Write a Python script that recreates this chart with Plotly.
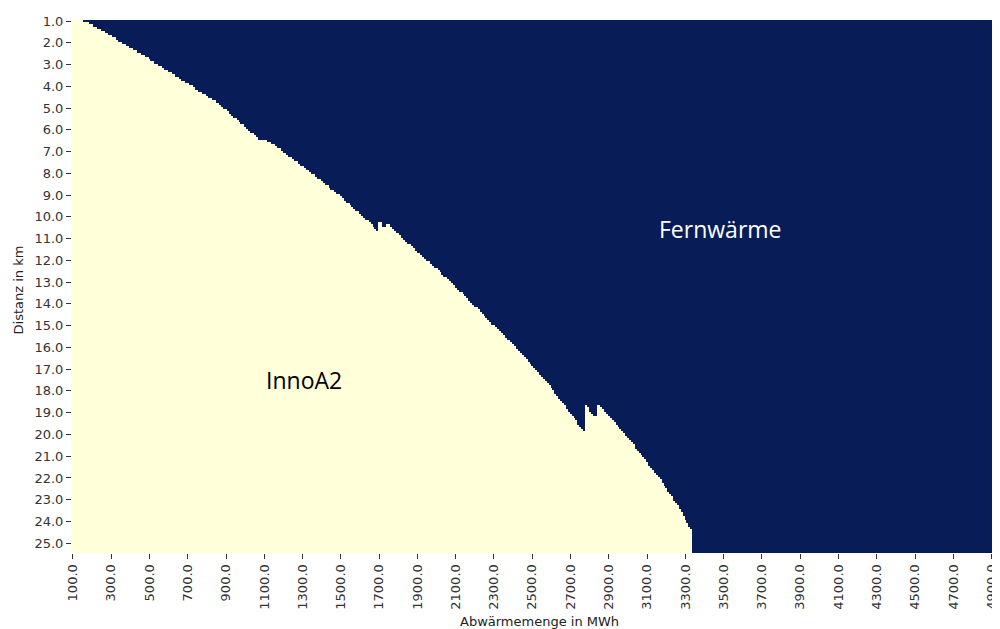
import numpy as np
import plotly.graph_objects as go

# Abwärmemenge (MWh) columns and Distanz (km) rows of the decision grid
abwaerme = [100 + 10 * i for i in range(490)]          # 100 ... 4990
distanz = [round(1.0 + 0.1 * i, 1) for i in range(245)]  # 1.0 ... 25.4

# first distance (km) from which InnoA2 is the better option, per column 100 ... 3330 MWh
# (columns beyond 3330 MWh are Fernwärme over the whole distance range)
grenze_km = [
    1.0, 1.0, 1.0, 1.0, 1.0, 1.0, 1.1, 1.1, 1.1, 1.2,
    1.2, 1.3, 1.3, 1.4, 1.4, 1.5, 1.5, 1.6, 1.6, 1.7,
    1.7, 1.8, 1.8, 1.9, 2.0, 2.0, 2.1, 2.1, 2.2, 2.2,
    2.3, 2.3, 2.4, 2.4, 2.5, 2.5, 2.6, 2.6, 2.7, 2.7,
    2.8, 2.9, 2.9, 3.0, 3.0, 3.1, 3.1, 3.2, 3.3, 3.3,
    3.4, 3.4, 3.5, 3.5, 3.6, 3.6, 3.7, 3.8, 3.8, 3.9,
    3.9, 4.0, 4.0, 4.1, 4.2, 4.2, 4.3, 4.3, 4.4, 4.4,
    4.5, 4.6, 4.6, 4.7, 4.7, 4.8, 4.8, 4.9, 5.0, 5.1,
    5.1, 5.2, 5.3, 5.4, 5.5, 5.5, 5.6, 5.7, 5.8, 5.8,
    5.9, 6.0, 6.1, 6.2, 6.2, 6.3, 6.4, 6.5, 6.5, 6.5,
    6.5, 6.5, 6.6, 6.6, 6.7, 6.7, 6.8, 6.9, 6.9, 7.0,
    7.1, 7.1, 7.2, 7.3, 7.3, 7.4, 7.5, 7.5, 7.6, 7.7,
    7.7, 7.8, 7.9, 7.9, 8.0, 8.1, 8.1, 8.2, 8.3, 8.3,
    8.4, 8.5, 8.6, 8.6, 8.7, 8.8, 8.8, 8.9, 9.0, 9.0,
    9.1, 9.2, 9.3, 9.4, 9.4, 9.5, 9.6, 9.7, 9.8, 9.8,
    9.9, 10.0, 10.1, 10.2, 10.2, 10.3, 10.4, 10.5, 10.6, 10.7,
    10.3, 10.3, 10.5, 10.5, 10.4, 10.4, 10.5, 10.6, 10.7, 10.8,
    10.8, 10.9, 11.0, 11.1, 11.2, 11.3, 11.3, 11.4, 11.5, 11.6,
    11.7, 11.7, 11.8, 11.9, 12.0, 12.1, 12.1, 12.2, 12.3, 12.4,
    12.4, 12.5, 12.6, 12.7, 12.8, 12.8, 12.9, 13.0, 13.1, 13.2,
    13.3, 13.4, 13.5, 13.5, 13.6, 13.7, 13.8, 13.9, 14.0, 14.1,
    14.2, 14.2, 14.3, 14.4, 14.5, 14.6, 14.7, 14.8, 14.9, 15.0,
    15.0, 15.1, 15.2, 15.3, 15.4, 15.5, 15.6, 15.7, 15.7, 15.8,
    15.9, 16.0, 16.1, 16.2, 16.3, 16.4, 16.5, 16.6, 16.7, 16.8,
    16.9, 17.0, 17.1, 17.2, 17.3, 17.4, 17.5, 17.6, 17.7, 17.8,
    17.9, 18.0, 18.2, 18.3, 18.4, 18.5, 18.6, 18.7, 18.9, 19.0,
    19.1, 19.2, 19.3, 19.4, 19.6, 19.7, 19.8, 19.9, 18.7, 18.8,
    19.0, 19.1, 19.2, 19.2, 18.7, 18.7, 18.8, 18.9, 19.0, 19.1,
    19.2, 19.3, 19.4, 19.5, 19.6, 19.7, 19.8, 19.9, 20.0, 20.1,
    20.2, 20.3, 20.4, 20.5, 20.7, 20.8, 20.9, 21.0, 21.1, 21.2,
    21.3, 21.5, 21.6, 21.7, 21.8, 21.9, 22.0, 22.1, 22.3, 22.4,
    22.5, 22.7, 22.8, 22.9, 23.1, 23.2, 23.3, 23.5, 23.6, 23.8,
    24.0, 24.1, 24.3, 24.4,
]

x_ticks = list(range(100, 5000, 200))
x_ticktext = [f"{v:.1f}" for v in x_ticks]
y_ticks = [float(v) for v in range(1, 26)]
y_ticktext = [f"{v:.1f}" for v in y_ticks]

# 0 = InnoA2, 1 = Fernwärme
grenze = np.full(len(abwaerme), np.inf)
grenze[:len(grenze_km)] = grenze_km
z = (np.array(distanz)[:, None] < grenze[None, :] - 1e-9).astype(int)

fig = go.Figure()
fig.add_trace(go.Heatmap(
    x=abwaerme,
    y=distanz,
    z=z,
    zmin=0,
    zmax=1,
    colorscale=[[0, '#ffffd9'], [1, '#081d58']],
    showscale=False,
    hoverinfo='skip',
))

# region labels
fig.add_annotation(x=3482, y=10.55, text="Fernwärme", showarrow=False,
                   font=dict(family="Open Sans", size=23, color="white"))
fig.add_annotation(x=1306, y=17.48, text="InnoA2", showarrow=False,
                   font=dict(family="Open Sans", size=23, color="black"))

# axis titles (placed by hand, like the original)
title_font = dict(family="DejaVu Sans", size=13, color="#222222")
fig.add_annotation(x=-0.058, y=0.493, xref='paper', yref='paper', text="Distanz in km",
                   textangle=-90, showarrow=False, font=title_font,
                   xanchor='center', yanchor='middle')
fig.add_annotation(x=0.504, y=-0.128, xref='paper', yref='paper', text="Abwärmemenge in MWh",
                   showarrow=False, font=title_font, xanchor='center', yanchor='middle')

tick_font = dict(family="DejaVu Sans", size=13, color="#333333")

# the page body adds 8 px around the figure, so the figure is 8 px smaller here
fig.update_layout(
    width=992,
    height=621,
    margin=dict(l=64, r=0, t=12, b=76),
    paper_bgcolor='white',
    plot_bgcolor='white',
    showlegend=False,
)

fig.update_xaxes(
    range=[95, 4944],
    tickmode='array',
    tickvals=x_ticks,
    ticktext=x_ticktext,
    tickangle=-90,
    ticks='outside',
    ticklen=5,
    tickcolor='#333333',
    tickfont=tick_font,
    showgrid=False,
    zeroline=False,
    automargin=False,
)
fig.update_yaxes(
    range=[25.45, 0.95],
    tickmode='array',
    tickvals=y_ticks,
    ticktext=y_ticktext,
    ticks='outside',
    ticklen=5,
    tickcolor='#333333',
    tickfont=tick_font,
    showgrid=False,
    zeroline=False,
    automargin=False,
)

fig.write_html("out.html")
